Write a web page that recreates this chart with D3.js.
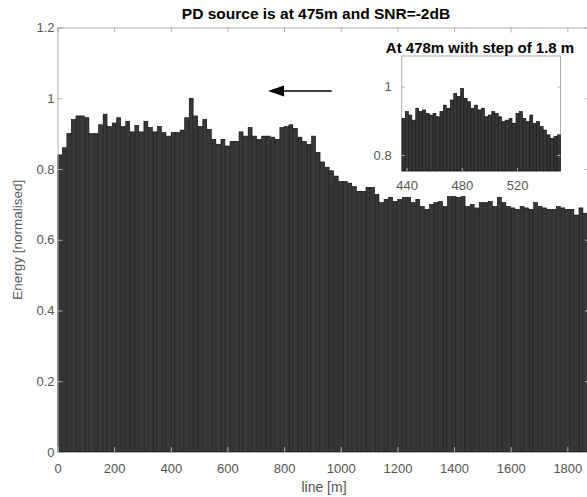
<!DOCTYPE html>
<html><head><meta charset="utf-8">
<script src="https://cdn.jsdelivr.net/npm/d3@7"></script>
<style>body{margin:0;background:#fff}svg{display:block}text{font-family:"Liberation Sans",Arial,sans-serif}</style>
</head><body>
<script>
// ---------- data ----------
const mainStep = 16; // metres between bars
const mainValues = [0.84,0.86,0.90,0.94,0.95,0.95,0.945,0.90,0.90,0.925,
0.955,0.92,0.93,0.945,0.92,0.935,0.905,0.923,0.905,0.935,
0.917,0.905,0.92,0.903,0.893,0.903,0.903,0.91,0.945,1.0,
0.95,0.92,0.94,0.912,0.884,0.87,0.884,0.865,0.878,0.878,
0.905,0.893,0.917,0.893,0.884,0.893,0.893,0.89,0.884,0.917,
0.92,0.925,0.915,0.89,0.878,0.87,0.893,0.847,0.82,0.805,
0.795,0.78,0.765,0.765,0.76,0.75,0.737,0.737,0.748,0.748,
0.728,0.705,0.714,0.72,0.708,0.714,0.72,0.72,0.705,0.714,
0.694,0.686,0.70,0.705,0.708,0.694,0.722,0.722,0.72,0.722,
0.694,0.70,0.69,0.705,0.705,0.708,0.694,0.72,0.705,0.694,
0.69,0.686,0.694,0.69,0.686,0.705,0.694,0.69,0.686,0.686,
0.694,0.69,0.686,0.686,0.67,0.69,0.675,0.665];
const insetStart = 436.5, insetStep = 2.5;
const insetValues = [0.907,0.927,0.917,0.902,0.937,0.927,0.932,0.922,0.917,0.922,
0.912,0.927,0.946,0.937,0.961,0.98,0.971,0.995,0.966,0.956,
0.937,0.946,0.932,0.937,0.912,0.917,0.927,0.922,0.912,0.898,
0.902,0.907,0.893,0.922,0.927,0.907,0.898,0.917,0.893,0.898,
0.883,0.873,0.859,0.849,0.854,0.859];
const xTicks = [0,200,400,600,800,1000,1200,1400,1600,1800];
const yTicks = [0,0.2,0.4,0.6,0.8,1,1.2];
const insetXTicks = [440,480,520];
const insetYTicks = [0.8,1];
const title = "PD source is at 475m and SNR=-2dB";
const insetTitle = "At 478m with step of 1.8 m";
const xLabel = "line [m]";
const yLabel = "Energy [normalised]";

// ---------- layout ----------
const W = 587, H = 497;
const L = 57.5, R = 590, T = 27.5, B = 452;
const svg = d3.select("body").append("svg").attr("width", W).attr("height", H);
const x = d3.scaleLinear().domain([0, 1880]).range([L, R]);
const y = d3.scaleLinear().domain([0, 1.2]).range([B, T]);
const axisCol = "#b0b0b0", labCol = "#555";
const barFill = "#383838", barEdge = "#000";

// bars
const bw = (x(mainStep) - x(0)) * 0.86;
svg.append("g").selectAll("rect").data(mainValues).join("rect")
  .attr("x", (d, i) => x(mainStep / 2 + i * mainStep) - bw / 2)
  .attr("y", d => y(d))
  .attr("width", bw)
  .attr("height", d => y(0) - y(d))
  .attr("fill", barFill).attr("stroke", barEdge).attr("stroke-width", 0.6);

function styleAxis(g, fs) {
  g.select(".domain").attr("stroke", axisCol);
  g.selectAll(".tick line").attr("stroke", axisCol);
  g.selectAll(".tick text").attr("fill", labCol).style("font-size", fs + "px");
}
// axes
const gx = svg.append("g").attr("transform", `translate(0,${B})`)
  .call(d3.axisBottom(x).tickValues(xTicks).tickSize(-5).tickPadding(12).tickFormat(d3.format("d")));
styleAxis(gx, 13);
const gxt = svg.append("g").attr("transform", `translate(0,${T})`)
  .call(d3.axisTop(x).tickValues(xTicks).tickSize(-5).tickFormat(""));
styleAxis(gxt, 13);
const gy = svg.append("g").attr("transform", `translate(${L},0)`)
  .call(d3.axisLeft(y).tickValues(yTicks).tickSize(-5).tickPadding(3).tickFormat(d => d3.format("~g")(d)));
styleAxis(gy, 13);
const gyr = svg.append("g").attr("transform", `translate(${R},0)`)
  .call(d3.axisRight(y).tickValues(yTicks).tickSize(-5).tickFormat(""));
styleAxis(gyr, 13);

// labels
svg.append("text").attr("x", 316).attr("y", 13).attr("text-anchor", "middle")
  .attr("dominant-baseline", "central").style("font-size", "15.5px").style("font-weight", "bold").text(title);
svg.append("text").attr("x", 324).attr("y", 487).attr("text-anchor", "middle")
  .attr("dominant-baseline", "central").attr("fill", labCol).style("font-size", "14px").text(xLabel);
svg.append("text").attr("transform", `translate(17,${(T + B) / 2}) rotate(-90)`).attr("text-anchor", "middle")
  .attr("dominant-baseline", "central").attr("fill", labCol).style("font-size", "13.5px").text(yLabel);

// arrow
svg.append("line").attr("x1", 331.7).attr("y1", 91).attr("x2", 280).attr("y2", 91)
  .attr("stroke", "#000").attr("stroke-width", 1.5);
svg.append("path").attr("d", "M268,91 L284,85.5 L284,96.5 Z").attr("fill", "#000");

// ---------- inset ----------
const iL = 401.7, iR = 560.5, iT = 56, iB = 171;
const xi = d3.scaleLinear().domain([insetStart, 551.4]).range([iL, iR]);
const yi = d3.scaleLinear().domain([0.753, 1.09]).range([iB, iT]);
svg.append("rect").attr("x", iL).attr("y", iT).attr("width", iR - iL).attr("height", iB - iT)
  .attr("fill", "#fff").attr("stroke", axisCol);
const ibw = (xi(insetStart + insetStep) - xi(insetStart)) * 0.86;
svg.append("g").selectAll("rect").data(insetValues).join("rect")
  .attr("x", (d, i) => xi(insetStart + insetStep / 2 + i * insetStep) - ibw / 2)
  .attr("y", d => yi(d))
  .attr("width", ibw)
  .attr("height", d => yi(0.753) - yi(d))
  .attr("fill", barFill).attr("stroke", barEdge).attr("stroke-width", 0.6);
const gix = svg.append("g").attr("transform", `translate(0,${iB})`)
  .call(d3.axisBottom(xi).tickValues(insetXTicks).tickSize(-3).tickPadding(9.5));
styleAxis(gix, 13); gix.select(".domain").remove();
const giy = svg.append("g").attr("transform", `translate(${iL},0)`)
  .call(d3.axisLeft(yi).tickValues(insetYTicks).tickSize(-3).tickPadding(10).tickFormat(d => d3.format("~g")(d)));
styleAxis(giy, 13); giy.select(".domain").remove();
const giyr = svg.append("g").attr("transform", `translate(${iR},0)`)
  .call(d3.axisRight(yi).tickValues(insetYTicks).tickSize(-3).tickFormat(""));
styleAxis(giyr, 13); giyr.select(".domain").remove();
svg.append("text").attr("x", 480).attr("y", 47).attr("text-anchor", "middle")
  .attr("dominant-baseline", "central").style("font-size", "15px").style("font-weight", "bold").text(insetTitle);
</script>
</body></html>
